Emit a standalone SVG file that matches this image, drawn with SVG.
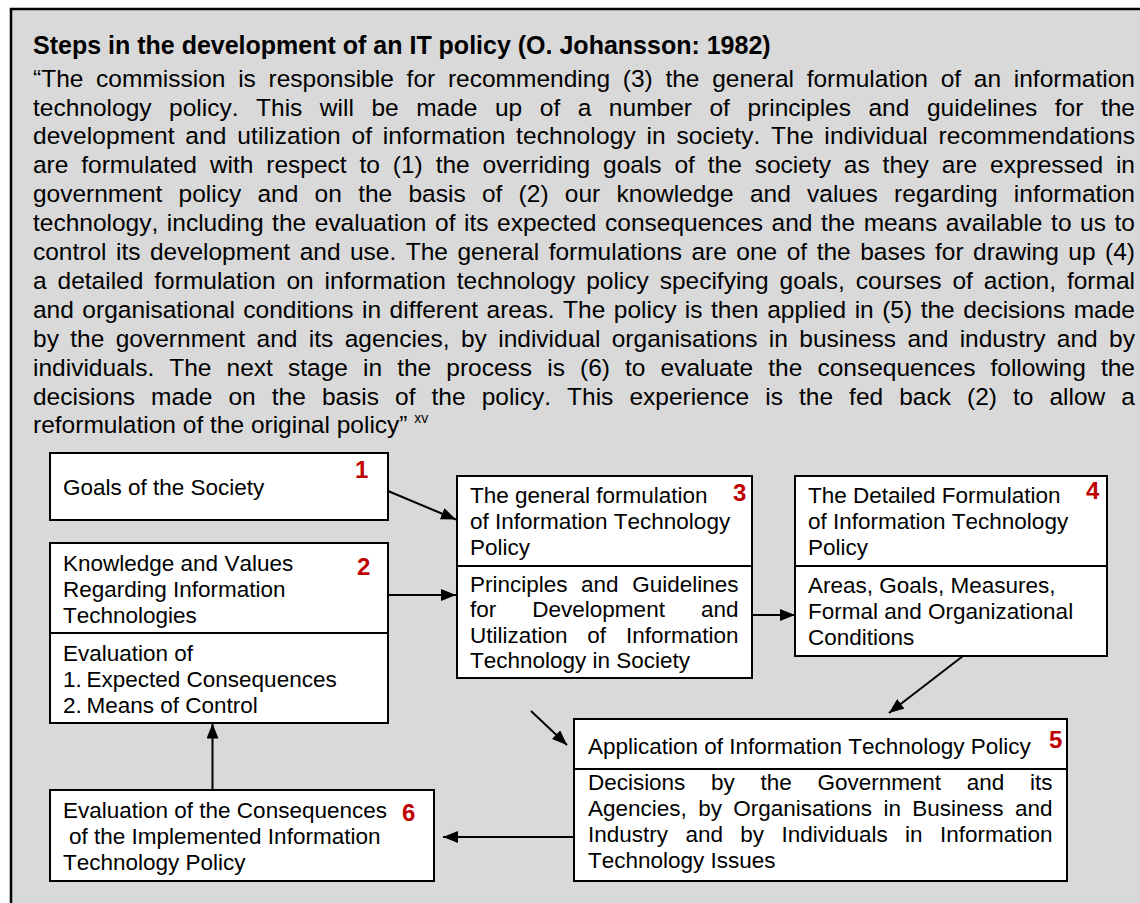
<svg xmlns="http://www.w3.org/2000/svg" width="1140" height="903" viewBox="0 0 1140 903">
<style>
text{font-family:"Liberation Sans",Arial,sans-serif;fill:#000;font-kerning:none}
.h{font-size:25px;font-weight:bold}
.p{font-size:24.5px}
.b{font-size:22.5px}
.n{font-size:24px;font-weight:bold;fill:#c00000}
.box{fill:#fff;stroke:#000;stroke-width:2}
.div{stroke:#000;stroke-width:2}
.c{stroke:#000;stroke-width:2;fill:none}
</style>
<defs>
<marker id="ah" markerWidth="15" markerHeight="12" refX="15" refY="6" orient="auto" markerUnits="userSpaceOnUse"><path d="M0,0 L15,6 L0,12 z" fill="#000"/></marker>
</defs>
<rect x="11" y="9" width="1200" height="1000" fill="#d9d9d9" stroke="#000" stroke-width="2.5"/>
<g id="header">
<text class="h" x="33" y="53.5">Steps in the development of an IT policy (O. Johansson: 1982)</text>
<text class="p" x="33" y="86.6" word-spacing="5.9" textLength="1102" lengthAdjust="spacing">“The commission is responsible for recommending (3) the general formulation of an information</text>
<text class="p" x="33" y="115.5" word-spacing="10.7" textLength="1102" lengthAdjust="spacing">technology policy. This will be made up of a number of principles and guidelines for the</text>
<text class="p" x="33" y="144.4" word-spacing="3.7" textLength="1102" lengthAdjust="spacing">development and utilization of information technology in society. The individual recommendations</text>
<text class="p" x="33" y="173.3" word-spacing="6.1" textLength="1102" lengthAdjust="spacing">are formulated with respect to (1) the overriding goals of the society as they are expressed in</text>
<text class="p" x="33" y="202.2" word-spacing="9.5" textLength="1102" lengthAdjust="spacing">government policy and on the basis of (2) our knowledge and values regarding information</text>
<text class="p" x="33" y="231.1" word-spacing="1.8" textLength="1102" lengthAdjust="spacing">technology, including the evaluation of its expected consequences and the means available to us to</text>
<text class="p" x="33" y="260" word-spacing="2.7" textLength="1102" lengthAdjust="spacing">control its development and use. The general formulations are one of the bases for drawing up (4)</text>
<text class="p" x="33" y="288.9" word-spacing="4.1" textLength="1102" lengthAdjust="spacing">a detailed formulation on information technology policy specifying goals, courses of action, formal</text>
<text class="p" x="33" y="317.8" word-spacing="1.7" textLength="1102" lengthAdjust="spacing">and organisational conditions in different areas. The policy is then applied in (5) the decisions made</text>
<text class="p" x="33" y="346.7" word-spacing="4.6" textLength="1102" lengthAdjust="spacing">by the government and its agencies, by individual organisations in business and industry and by</text>
<text class="p" x="33" y="375.6" word-spacing="8.3" textLength="1102" lengthAdjust="spacing">individuals. The next stage in the process is (6) to evaluate the consequences following the</text>
<text class="p" x="33" y="404.5" word-spacing="9.3" textLength="1102" lengthAdjust="spacing">decisions made on the basis of the policy. This experience is the fed back (2) to allow a</text>
<text class="p" x="33" y="433.4">reformulation of the original policy” <tspan font-size="14" dy="-10">xv</tspan></text>
</g>
<g id="connectors">
<line class="c" x1="388" y1="491" x2="456" y2="519.5" marker-end="url(#ah)"/>
<line class="c" x1="388" y1="595" x2="456" y2="595" marker-end="url(#ah)"/>
<line class="c" x1="752" y1="615" x2="795" y2="615" marker-end="url(#ah)"/>
<line class="c" x1="963" y1="656" x2="889" y2="713" marker-end="url(#ah)"/>
<line class="c" x1="531" y1="711" x2="567" y2="745" marker-end="url(#ah)"/>
<line class="c" x1="574" y1="837" x2="443" y2="837" marker-end="url(#ah)"/>
<line class="c" x1="212.5" y1="790" x2="212.5" y2="723.5" marker-end="url(#ah)"/>
</g>
<g id="node1">
<rect class="box" x="50" y="453" width="338" height="67"/>
<text class="b" x="63" y="495">Goals of the Society</text>
<text class="n" x="355" y="478">1</text>
</g>
<g id="node2">
<rect class="box" x="50" y="543" width="338" height="180"/>
<line class="div" x1="50" y1="633" x2="388" y2="633"/>
<text class="b" x="63" y="570.5">Knowledge and Values</text>
<text class="b" x="63" y="596.5">Regarding Information</text>
<text class="b" x="63" y="622.5">Technologies</text>
<text class="n" x="357" y="575">2</text>
<text class="b" x="63" y="660.5">Evaluation of</text>
<text class="b" y="686.5"><tspan x="63">1.</tspan><tspan x="86.5">Expected Consequences</tspan></text>
<text class="b" y="712.5"><tspan x="63">2.</tspan><tspan x="86.5">Means of Control</tspan></text>
</g>
<g id="node3">
<rect class="box" x="457" y="476" width="295" height="202"/>
<line class="div" x1="457" y1="566" x2="752" y2="566"/>
<text class="b" x="470" y="503">The general formulation</text>
<text class="b" x="470" y="529">of Information Technology</text>
<text class="b" x="470" y="555">Policy</text>
<text class="n" x="733" y="501">3</text>
<text class="b" x="470" y="591.5" word-spacing="7.3" textLength="268.5" lengthAdjust="spacing">Principles and Guidelines</text>
<text class="b" x="470" y="617" word-spacing="29.8" textLength="268.5" lengthAdjust="spacing">for Development and</text>
<text class="b" x="470" y="642.5" word-spacing="13.6" textLength="268.5" lengthAdjust="spacing">Utilization of Information</text>
<text class="b" x="470" y="668">Technology in Society</text>
</g>
<g id="node4">
<rect class="box" x="795" y="476" width="312" height="180"/>
<line class="div" x1="795" y1="566" x2="1107" y2="566"/>
<text class="b" x="808" y="503">The Detailed Formulation</text>
<text class="b" x="808" y="529">of Information Technology</text>
<text class="b" x="808" y="555">Policy</text>
<text class="n" x="1086" y="499">4</text>
<text class="b" x="808" y="593">Areas, Goals, Measures,</text>
<text class="b" x="808" y="619">Formal and Organizational</text>
<text class="b" x="808" y="644.5">Conditions</text>
</g>
<g id="node5">
<rect class="box" x="574" y="719" width="493" height="162"/>
<line class="div" x1="574" y1="769" x2="1067" y2="769"/>
<text class="b" x="588" y="753.5">Application of Information Technology Policy</text>
<text class="n" x="1049" y="748">5</text>
<text class="b" x="588" y="790" word-spacing="19.5" textLength="464.5" lengthAdjust="spacing">Decisions by the Government and its</text>
<text class="b" x="588" y="816" word-spacing="5.2" textLength="464.5" lengthAdjust="spacing">Agencies, by Organisations in Business and</text>
<text class="b" x="588" y="842" word-spacing="11.2" textLength="464.5" lengthAdjust="spacing">Industry and by Individuals in Information</text>
<text class="b" x="588" y="868">Technology Issues</text>
</g>
<g id="node6">
<rect class="box" x="50" y="790" width="384" height="91"/>
<text class="b" x="63" y="817.5">Evaluation of the Consequences</text>
<text class="n" x="402" y="821">6</text>
<text class="b" x="69" y="843.5">of the Implemented Information</text>
<text class="b" x="63" y="869.5">Technology Policy</text>
</g>
</svg>
